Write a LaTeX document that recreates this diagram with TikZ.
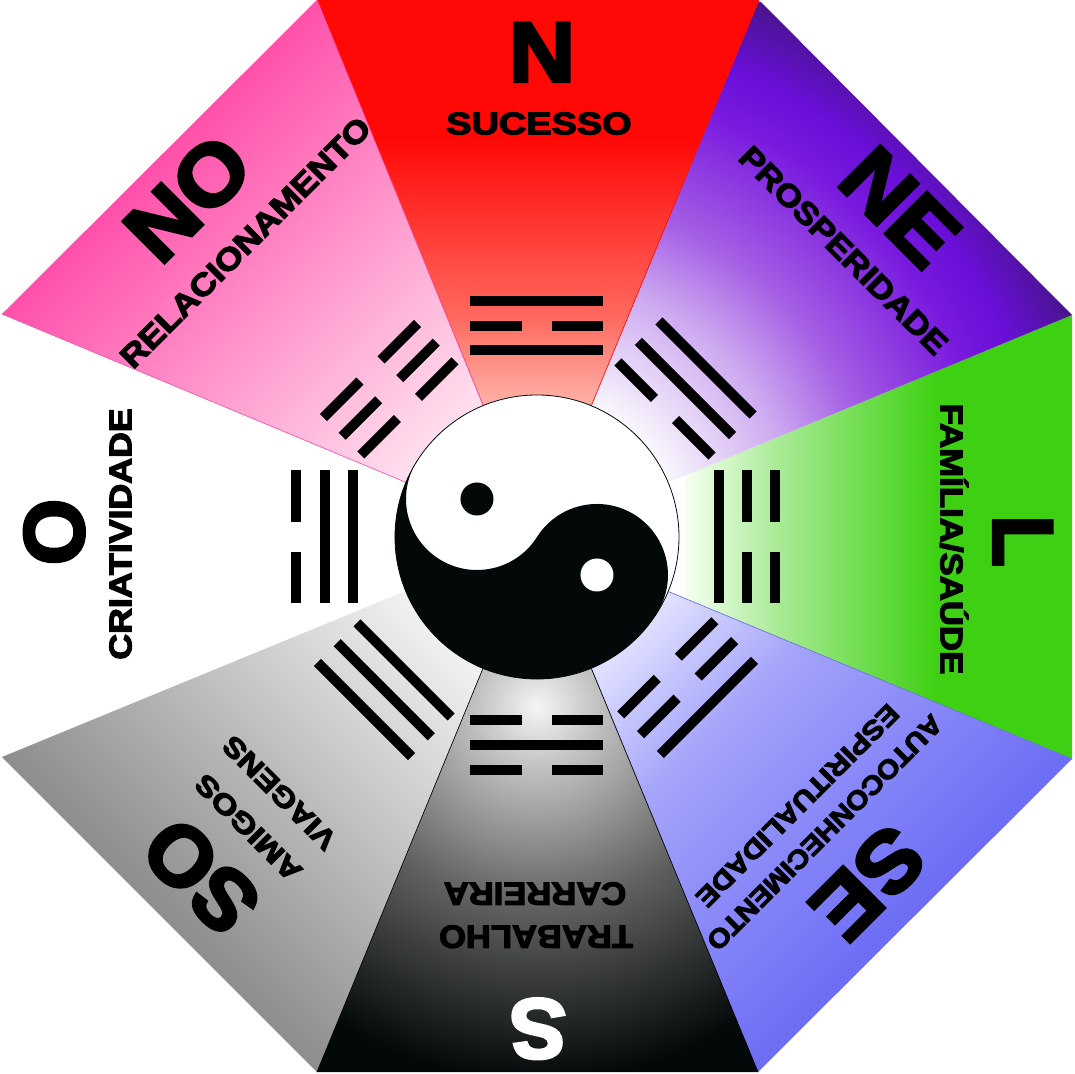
\documentclass[tikz,border=0pt]{standalone}
\usepackage{fontspec}
\usepackage{tikz}
\newfontfamily\heavyfont{Liberation Sans}[UprightFont=* Bold,FakeBold=3.6]

\definecolor{yinblack}{RGB}{3,8,8}
\definecolor{nA}{RGB}{255,172,162}
\definecolor{nB}{RGB}{255,105,95}
\definecolor{nC}{RGB}{255,8,5}
\definecolor{neA}{RGB}{250,248,252}
\definecolor{neB}{RGB}{205,170,240}
\definecolor{neC}{RGB}{165,95,228}
\definecolor{neD}{RGB}{120,25,222}
\definecolor{neE}{RGB}{105,15,215}
\definecolor{neF}{RGB}{72,20,140}
\definecolor{noA}{RGB}{255,222,238}
\definecolor{noB}{RGB}{255,80,170}
\definecolor{lA}{RGB}{245,255,240}
\definecolor{lB}{RGB}{170,235,150}
\definecolor{lC}{RGB}{62,208,18}
\definecolor{seA}{RGB}{222,222,255}
\definecolor{seB}{RGB}{165,165,250}
\definecolor{seC}{RGB}{135,135,248}
\definecolor{seD}{RGB}{108,108,245}
\definecolor{soA}{RGB}{240,240,240}
\definecolor{soB}{RGB}{140,140,140}

% stops: 450pt is the centre of the octagon
\pgfdeclareverticalshading{shadeN}{900pt}{color(0pt)=(nA);color(555pt)=(nA);color(615pt)=(nB);color(750pt)=(nC);color(900pt)=(nC)}
\pgfdeclareverticalshading{shadeNO}{900pt}{color(0pt)=(noA);color(555pt)=(noA);color(853pt)=(noB);color(900pt)=(noB)}
\pgfdeclareverticalshading{shadeL}{900pt}{color(0pt)=(white);color(560pt)=(white);color(561pt)=(lA);color(630pt)=(lB);color(750pt)=(lC);color(900pt)=(lC)}
\pgfdeclareverticalshading{shadeSE}{900pt}{color(0pt)=(seA);color(555pt)=(seA);color(645pt)=(seB);color(750pt)=(seC);color(853pt)=(seD);color(900pt)=(seD)}
\pgfdeclareverticalshading{shadeSO}{900pt}{color(0pt)=(soA);color(555pt)=(soA);color(853pt)=(soB);color(900pt)=(soB)}
\pgfdeclareradialshading{shadeNE}{\pgfpointorigin}{color(0pt)=(neA);color(105pt)=(neA);color(195pt)=(neB);color(255pt)=(neC);color(345pt)=(neD);color(382pt)=(neE);color(435pt)=(neF)}
\pgfdeclareradialshading{shadeS}{\pgfpointorigin}{color(0pt)=(black!4);color(45pt)=(black!24);color(150pt)=(black!62);color(280pt)=(yinblack);color(330pt)=(yinblack)}

\tikzset{
  edgeline/.style={line width=0.5pt},
  bar/.style={fill=black},
  textbase/.style={inner sep=0pt,text depth=0pt},
  biglabel/.style={textbase,text height=46pt,font=\heavyfont\fontsize{64}{64}\selectfont},
  midlabel/.style={textbase,text height=17pt,font=\heavyfont\fontsize{23.5}{24}\selectfont},
  southlabel/.style={textbase,text height=17pt,xscale=1.08,font=\heavyfont\fontsize{24}{24}\selectfont},
  sololabel/.style={textbase,text height=15pt,font=\heavyfont\fontsize{21}{21}\selectfont},
  selabel/.style={textbase,text height=14.5pt,font=\heavyfont\fontsize{20}{20}\selectfont}
}

\newcommand{\sector}[5]{
  \begin{scope}
    \clip (c) -- (#1) -- (#2) -- cycle;
    \node[inner sep=0pt,rotate=#4] (fill#3) at (c) {\pgfuseshading{#3}};
  \end{scope}
  \draw[edgeline,#5] (#1) -- (c) -- (#2);
}
\newcommand{\solidbar}[1]{\fill[bar] (-66.5,#1-5) rectangle (66.5,#1+5);}
\newcommand{\brokenbar}[1]{
  \fill[bar] (-66.5,#1-5) rectangle (-15,#1+5);
  \fill[bar] (15,#1-5) rectangle (66.5,#1+5);
}
% rotation, distance, spacing, then the bars from inner to outer
\newcommand{\trigram}[6]{
  \begin{scope}[rotate=#1]
    \pgfmathsetmacro{\rin}{#2-#3}
    \pgfmathsetmacro{\rout}{#2+#3}
    #4{\rin}
    #5{#2}
    #6{\rout}
  \end{scope}
}

\begin{document}
\begin{tikzpicture}[x=0.75pt,y=0.75pt]
  \useasboundingbox[fill=white] (-537,-537) rectangle (538,537);
  \coordinate (c) at (0,0);
  \coordinate (a) at (-220,537);
  \coordinate (b) at (222,537);
  \coordinate (d) at (535,222);
  \coordinate (e) at (535,-222);
  \coordinate (f) at (221,-535);
  \coordinate (g) at (-220,-535);
  \coordinate (h) at (-535,-220);
  \coordinate (i) at (-535,223);

  \sector{d}{e}{shadeL}{-90}{draw=none}
  \sector{b}{d}{shadeNE}{0}{draw=none}
  \sector{g}{h}{shadeSO}{135}{draw=none}
  \sector{a}{b}{shadeN}{0}{nC}
  \sector{i}{a}{shadeNO}{45}{noB}
  \sector{e}{f}{shadeSE}{-135}{seD}
  \begin{scope}
    \clip (c) -- (f) -- (g) -- cycle;
    \node[inner sep=0pt] (fillS) at (0,-170) {\pgfuseshading{shadeS}};
  \end{scope}
  \draw[edgeline,black] (f) -- (c) -- (g);

  % yin yang
  \draw[fill=white,line width=0.6pt,draw=yinblack] (c) circle (142);
  \fill[yinblack] (-32.35:142) arc[start angle=-32.35,end angle=-212.35,radius=142]
    arc[start angle=147.65,end angle=327.65,radius=71]
    arc[start angle=147.65,end angle=-32.35,radius=71] -- cycle;
  \fill[yinblack] (-60,38) circle (16.5);
  \fill[white] (60,-38) circle (16.5);

  % trigrams
  \trigram{0}{211}{24.5}{\solidbar}{\brokenbar}{\solidbar}
  \trigram{-45}{210}{29}{\brokenbar}{\solidbar}{\solidbar}
  \trigram{-90}{210}{28}{\solidbar}{\brokenbar}{\brokenbar}
  \trigram{-135}{213}{28}{\brokenbar}{\brokenbar}{\solidbar}
  \trigram{180}{208}{25}{\brokenbar}{\solidbar}{\brokenbar}
  \trigram{135}{216}{28}{\solidbar}{\solidbar}{\solidbar}
  \trigram{90}{212}{28.5}{\solidbar}{\solidbar}{\brokenbar}
  \trigram{45}{209}{26.5}{\brokenbar}{\brokenbar}{\brokenbar}

  % labels
  \node[biglabel,xscale=1.08] (dirN) at (5,486) {N};
  \node[midlabel,xscale=1.21] (lifeN) at (2,414) {SUCESSO};
  \node[rotate=45,biglabel,xscale=1.07] (dirNO) at (-350,340) {NO};
  \node[rotate=45,midlabel,xscale=1.135] (lifeNO) at (-292,295) {RELACIONAMENTO};
  \node[rotate=-45,biglabel,xscale=1.07] (dirNE) at (364,331) {NE};
  \node[rotate=-45,midlabel,xscale=1.115] (lifeNE) at (307,287) {PROSPERIDADE};
  \node[rotate=90,biglabel] (dirO) at (-484,5) {O};
  \node[rotate=90,midlabel,xscale=1.14] (lifeO) at (-417,3) {CRIATIVIDADE};
  \node[rotate=-90,biglabel] (dirL) at (487,-4) {L};
  \node[rotate=-90,midlabel,xscale=1.11] (lifeL) at (415,-2) {FAMÍLIA/SAÚDE};
  \node[rotate=180,biglabel,white] (dirS) at (1,-493) {S};
  \node[rotate=180,southlabel] (lifeSa) at (-1,-400) {TRABALHO};
  \node[rotate=180,southlabel] (lifeSb) at (-2,-357) {CARREIRA};
  \node[rotate=135,biglabel] (dirSO) at (-337,-340) {SO};
  \node[rotate=135,sololabel,xscale=1.215] (lifeSOa) at (-289,-291) {AMIGOS};
  \node[rotate=135,sololabel,xscale=1.17] (lifeSOb) at (-258,-256) {VIAGENS};
  \node[rotate=225,biglabel,xscale=1.05] (dirSE) at (332,-347) {SE};
  \node[rotate=225,selabel,xscale=1.09] (lifeSEa) at (288,-296) {AUTOCONHECIMENTO};
  \node[rotate=225,selabel,xscale=1.135] (lifeSEb) at (261,-269) {ESPIRITUALIDADE};
\end{tikzpicture}
\end{document}
